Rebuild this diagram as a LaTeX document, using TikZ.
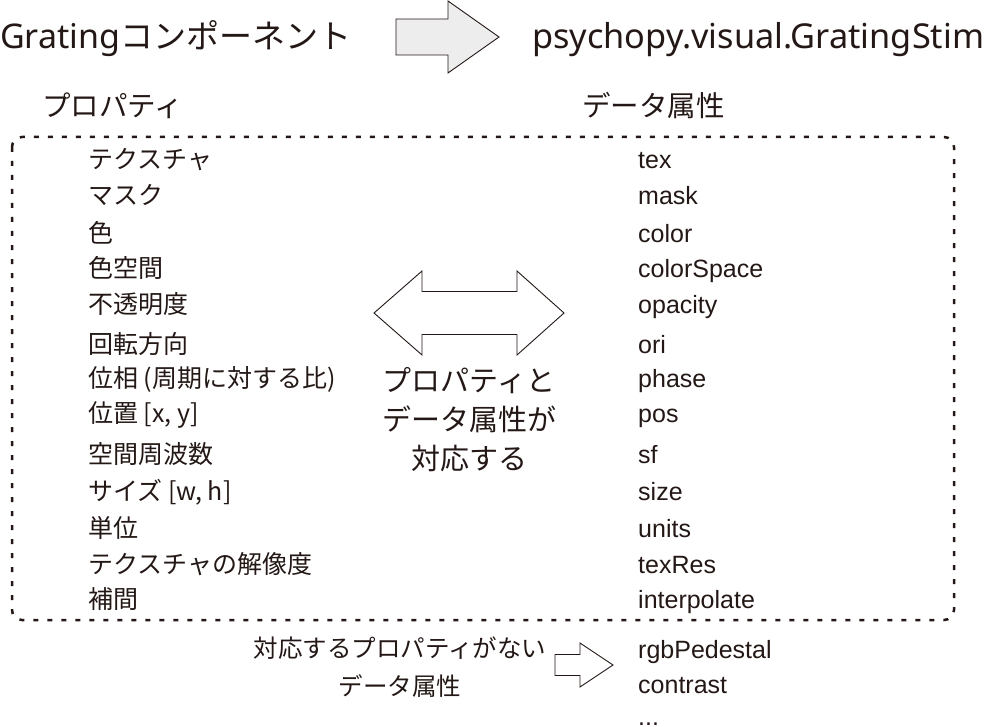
\documentclass[tikz,border=0pt]{standalone}
\usepackage{fontspec}
\setmainfont{Liberation Sans}
\newfontfamily\jp{Noto Sans CJK JP}
\newfontfamily\ttl{Noto Sans}
\usetikzlibrary{calc}
\definecolor{ink}{HTML}{231815}
\definecolor{shade}{HTML}{EDEDED}
\tikzset{
  blk/.style={draw=ink, line width=0.9pt, line join=miter, fill=white},
  frame/.style={draw=ink, line width=2.5pt, dash pattern=on 5pt off 9pt, rounded corners=10pt},
  ttl/.style={anchor=base west, inner sep=0pt, text=ink, font=\ttl\fontsize{34}{40}\selectfont},
  hdr/.style={anchor=base west, inner sep=0pt, text=ink, font=\jp\fontsize{28.5}{34}\selectfont},
  prop/.style={anchor=base west, inner sep=0pt, text=ink, font=\jp\fontsize{25}{30}\selectfont},
  attr/.style={anchor=base west, inner sep=0pt, text=ink, font=\fontsize{25}{30}\selectfont},
  note/.style={align=center, inner sep=0pt, text=ink},
}
\begin{document}
\begin{tikzpicture}[x=1pt, y=-1pt]
  \useasboundingbox (0,0) rectangle (984,727);
  \coordinate (go) at (448,37);
  \coordinate (pair) at (469,313);
  \coordinate (rest) at (580,665);

  % titles
  \node[ttl] (comp) at (0,49) {Grating{\jp\fontsize{33}{40}\selectfont コンポーネント}};
  \node[ttl, font=\ttl\fontsize{34.3}{40}\selectfont] (stim) at (532,49) {psychopy.visual.GratingStim};
  \draw[blk, fill=shade] ($(go)+(-52,-18)$) -- ($(go)+(0,-18)$) -- ($(go)+(0,-36)$)
    -- ($(go)+(51,0)$) -- ($(go)+(0,36)$) -- ($(go)+(0,18)$) -- ($(go)+(-52,18)$) -- cycle;

  % column heads
  \node[hdr] (props) at (42,117) {プロパティ};
  \node[hdr] (attrs) at (582,117) {データ属性};

  % dashed frame
  \draw[frame] (12,137) rectangle (954,620);

  % properties
  \foreach \y/\t [count=\i] in {169/テクスチャ, 205/マスク, 242/色, 277/色空間, 313/不透明度,
      353/回転方向, 387/{位相 (周期に対する比)}, 422/{位置 [x, y]}, 463/空間周波数,
      500/{サイズ [w, h]}, 537/単位, 573/テクスチャの解像度, 608/補間}
    \node[prop] (p\i) at (88,\y) {\t};

  % data attributes
  \foreach \y/\t [count=\i] in {169/tex, 205/mask, 242/color, 277/colorSpace, 313/opacity,
      353/ori, 387/phase, 422/pos, 463/sf, 500/size, 537/units, 573/texRes, 608/interpolate,
      658/rgbPedestal, 693/contrast}
    \node[attr] (a\i) at (638,\y) {\t};
  \node[attr, text height=4pt, text depth=0pt] (more) at (638,725) {...};

  % double arrow + note
  \draw[blk] ($(pair)+(-95,0)$) -- ($(pair)+(-47,-42)$) -- ($(pair)+(-47,-21.5)$)
    -- ($(pair)+(48,-21.5)$) -- ($(pair)+(48,-42)$) -- ($(pair)+(95,0)$)
    -- ($(pair)+(48,42)$) -- ($(pair)+(48,21.5)$) -- ($(pair)+(-47,21.5)$)
    -- ($(pair)+(-47,42)$) -- cycle;
  \node[note, font=\jp\fontsize{29}{39}\selectfont] (match) at (469,420) {プロパティと\\データ属性が\\対応する};

  % attributes without property
  \node[note, font=\jp\fontsize{24.5}{38}\selectfont] (nomatch) at (400,667) {対応するプロパティがない\\データ属性};
  \draw[blk] ($(rest)+(-25,-10.5)$) -- ($(rest)+(0,-10.5)$) -- ($(rest)+(0,-22)$)
    -- ($(rest)+(33,0)$) -- ($(rest)+(0,22)$) -- ($(rest)+(0,10.5)$) -- ($(rest)+(-25,10.5)$) -- cycle;
\end{tikzpicture}
\end{document}
